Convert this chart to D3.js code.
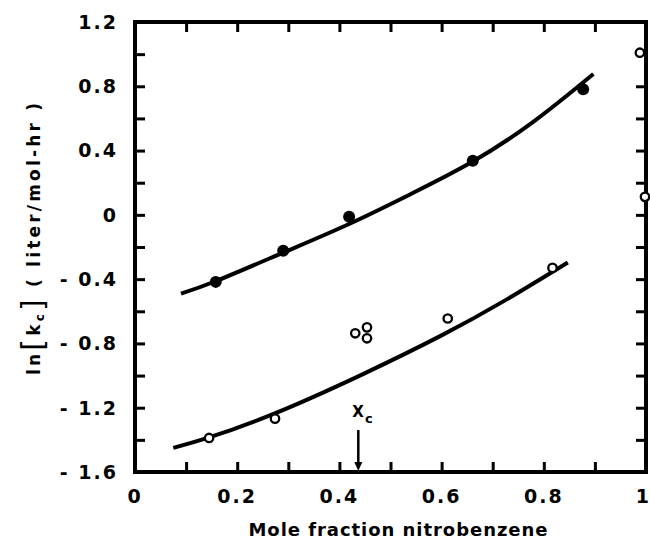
<!DOCTYPE html>
<html>
<head>
<meta charset="utf-8">
<script src="https://cdn.jsdelivr.net/npm/d3@7"></script>
<style>
  html, body { margin: 0; padding: 0; background: #fff; }
  svg { display: block; }
  text { font-family: "DejaVu Sans", "Liberation Sans", sans-serif; font-weight: bold; fill: #000; }
</style>
</head>
<body>
<script>
// Rate constants in the solvent mixture: filled and open symbols
const filledX = [0.158, 0.290, 0.419, 0.661, 0.877];
const filledY = [-0.417, -0.224, -0.012, 0.336, 0.781];

const openX = [0.145, 0.274, 0.431, 0.454, 0.454, 0.612, 0.817, 0.988, 0.998];
const openY = [-1.388, -1.268, -0.737, -0.700, -0.768, -0.645, -0.330, 1.009, 0.112];

// Smooth correlating curves through each set
const upperCurveX = [0.09, 0.16, 0.29, 0.42, 0.54, 0.66, 0.78, 0.897];
const upperCurveY = [-0.49, -0.41, -0.235, -0.055, 0.13, 0.33, 0.58, 0.876];
const lowerCurveX = [0.075, 0.145, 0.27, 0.44, 0.60, 0.72, 0.847];
const lowerCurveY = [-1.45, -1.385, -1.24, -1.0, -0.75, -0.54, -0.296];

// Critical composition marker
const xCritical = 0.437;

// Tick values and labels
const xMinorTicks = [0.1, 0.2, 0.3, 0.4, 0.5, 0.6, 0.7, 0.8, 0.9];
const xLabelTicks = [0, 0.2, 0.4, 0.6, 0.8, 1];
const xTickLabels = ["0", "0.2", "0.4", "0.6", "0.8", "1"];
const yMinorTicks = [-1.4, -1.2, -1.0, -0.8, -0.6, -0.4, -0.2, 0, 0.2, 0.4, 0.6, 0.8, 1.0];
const yLabelTicks = [1.2, 0.8, 0.4, 0, -0.4, -0.8, -1.2, -1.6];
const yTickLabels = ["1.2", "0.8", "0.4", "0", "- 0.4", "- 0.8", "- 1.2", "- 1.6"];

const W = 650, H = 542;
const plotLeft = 135, plotRight = 646, plotTop = 22, plotBottom = 472;

const svg = d3.select("body").append("svg").attr("width", W).attr("height", H);

const x = d3.scaleLinear().domain([0, 1]).range([plotLeft, plotRight]);
const y = d3.scaleLinear().domain([-1.6, 1.2]).range([plotBottom, plotTop]);

// Inward ticks on all four sides
const tickLen = 10;
const axisStyle = g => {
  g.select(".domain").remove();
  g.selectAll(".tick line").attr("stroke", "#000").attr("stroke-width", 3);
  g.selectAll(".tick text").remove();
};
svg.append("g").attr("transform", `translate(0,${plotBottom})`)
  .call(d3.axisBottom(x).tickValues(xMinorTicks).tickSize(-tickLen)).call(axisStyle);
svg.append("g").attr("transform", `translate(0,${plotTop})`)
  .call(d3.axisTop(x).tickValues(xMinorTicks).tickSize(-tickLen)).call(axisStyle);
svg.append("g").attr("transform", `translate(${plotLeft},0)`)
  .call(d3.axisLeft(y).tickValues(yMinorTicks).tickSize(-tickLen)).call(axisStyle);
svg.append("g").attr("transform", `translate(${plotRight},0)`)
  .call(d3.axisRight(y).tickValues(yMinorTicks).tickSize(-tickLen)).call(axisStyle);

// Frame
svg.append("rect")
  .attr("x", x(0)).attr("y", y(1.2))
  .attr("width", x(1) - x(0)).attr("height", y(-1.6) - y(1.2))
  .attr("fill", "none").attr("stroke", "#000").attr("stroke-width", 4);

// Tick labels (the last one is kept inside the page edge)
svg.append("g").selectAll("text").data(xLabelTicks).join("text")
  .attr("x", d => d === 1 ? W - 1 : x(d)).attr("y", plotBottom + 31)
  .attr("text-anchor", d => d === 1 ? "end" : "middle")
  .attr("font-size", 19).attr("letter-spacing", d => d === 1 ? 0 : 2)
  .text((d, i) => xTickLabels[i]);

svg.append("g").selectAll("text").data(yLabelTicks).join("text")
  .attr("x", plotLeft - 17).attr("y", d => y(d))
  .attr("dy", "0.36em")
  .attr("text-anchor", "end")
  .attr("font-size", 19).attr("letter-spacing", 2)
  .text((d, i) => yTickLabels[i]);

// Axis titles
svg.append("text")
  .attr("x", 398).attr("y", 536)
  .attr("text-anchor", "middle")
  .attr("font-size", 18)
  .attr("textLength", 299).attr("lengthAdjust", "spacing")
  .text("Mole fraction nitrobenzene");

const yTitle = svg.append("text")
  .attr("transform", "translate(40,239) rotate(-90)")
  .attr("text-anchor", "middle")
  .attr("font-size", 17)
  .attr("textLength", 272).attr("lengthAdjust", "spacing");
yTitle.append("tspan").text("ln");
yTitle.append("tspan").attr("font-size", 30).attr("font-weight", "normal").attr("dy", 3).text("[");
yTitle.append("tspan").attr("dy", -3).text("k");
yTitle.append("tspan").attr("font-size", 12).attr("dy", 4).text("c");
yTitle.append("tspan").attr("font-size", 30).attr("font-weight", "normal").attr("dy", -1).text("]");
yTitle.append("tspan").attr("dy", -3).text(" ( liter/mol-hr )");

// Curves
const line = d3.line().x(d => x(d[0])).y(d => y(d[1])).curve(d3.curveNatural);
svg.append("path")
  .datum(d3.zip(upperCurveX, upperCurveY))
  .attr("d", line).attr("fill", "none").attr("stroke", "#000").attr("stroke-width", 4);
svg.append("path")
  .datum(d3.zip(lowerCurveX, lowerCurveY))
  .attr("d", line).attr("fill", "none").attr("stroke", "#000").attr("stroke-width", 4);

// Points
svg.append("g").selectAll("circle").data(d3.zip(filledX, filledY)).join("circle")
  .attr("cx", d => x(d[0])).attr("cy", d => y(d[1])).attr("r", 6)
  .attr("fill", "#000");
svg.append("g").selectAll("circle").data(d3.zip(openX, openY)).join("circle")
  .attr("cx", d => x(d[0])).attr("cy", d => y(d[1])).attr("r", 4.2)
  .attr("fill", "#fff").attr("stroke", "#000").attr("stroke-width", 2.3);

// x_c arrow
const ax = x(xCritical);
svg.append("line")
  .attr("x1", ax).attr("x2", ax).attr("y1", plotBottom - 42).attr("y2", plotBottom - 8)
  .attr("stroke", "#000").attr("stroke-width", 2.5);
svg.append("path")
  .attr("d", `M${ax - 4},${plotBottom - 10} L${ax + 4},${plotBottom - 10} L${ax},${plotBottom - 1} Z`)
  .attr("fill", "#000");
const xcLabel = svg.append("text")
  .attr("x", ax - 6).attr("y", plotBottom - 55)
  .attr("font-size", 15).attr("font-weight", "normal");
xcLabel.append("tspan").text("X");
xcLabel.append("tspan").attr("font-size", 13).attr("dy", 6).attr("dx", 1).text("c");
</script>
</body>
</html>
